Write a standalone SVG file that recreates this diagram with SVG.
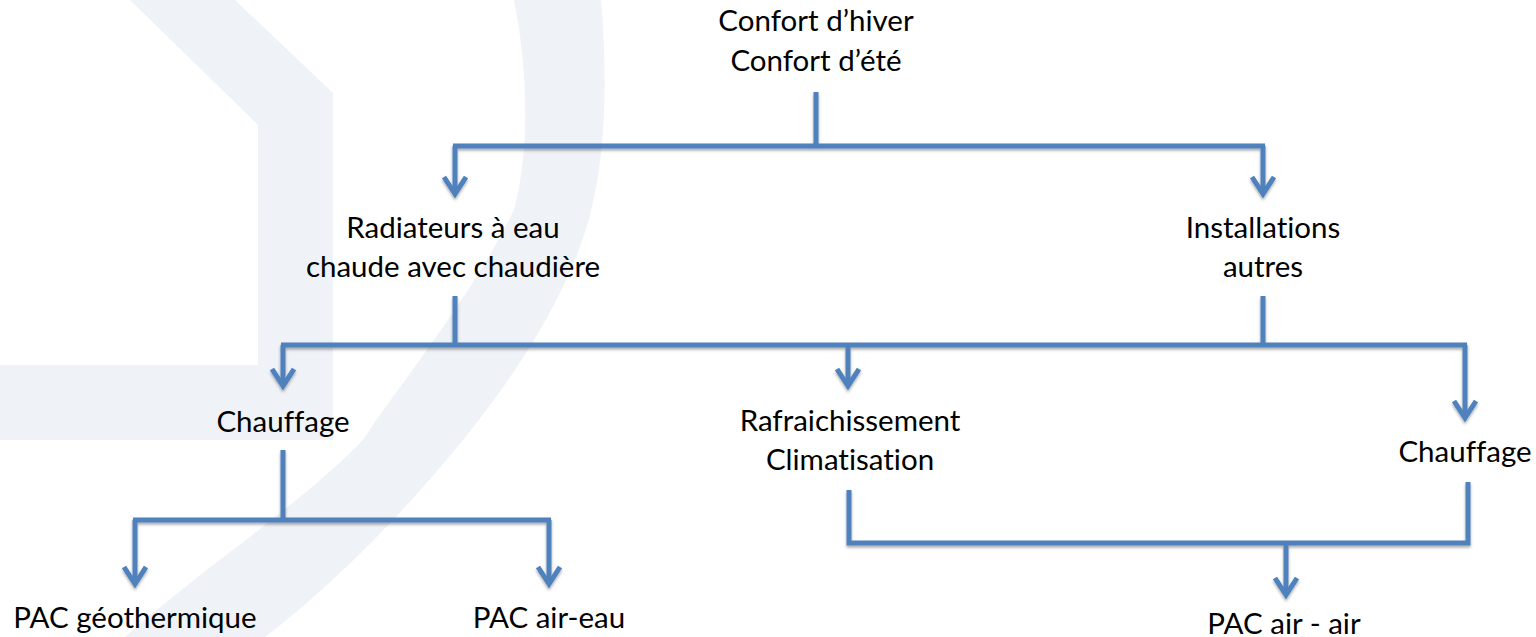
<svg xmlns="http://www.w3.org/2000/svg" width="1536" height="637" viewBox="0 0 1536 637">
  <defs>
    <style>
      .wm { fill: #EFF2F7; stroke: none; }
      .lbl { font-family: Lato, "Liberation Sans", sans-serif; font-size: 29.5px; fill: #000; text-anchor: middle; font-variant-ligatures: none; font-feature-settings: "liga" 0, "clig" 0, "dlig" 0; }
      .ln { fill: none; stroke: #4F81BD; stroke-width: 5; stroke-linejoin: miter; stroke-linecap: butt; }
      .arrow { marker-end: url(#arr); }
    </style>
    <marker id="arr" markerUnits="userSpaceOnUse" viewBox="-22 -16 26 32" markerWidth="26" markerHeight="32" refX="0" refY="0" orient="auto" overflow="visible">
      <path d="M-17,-11 L0,0 L-17,11" fill="none" stroke="#4F81BD" stroke-width="5" stroke-linejoin="miter"/>
    </marker>
    <filter id="sh" x="-5%" y="-20%" width="110%" height="160%">
      <feDropShadow dx="0" dy="2" stdDeviation="1.5" flood-color="#000" flood-opacity="0.35"/>
    </filter>
  </defs>

  <rect x="0" y="0" width="1536" height="637" fill="#FFFFFF"/>

  <g id="watermark">
    <polygon class="wm" points="235,0 333,93 333,440 0,440 0,365 258,365 258,125 130,0"/>
    <path class="wm" d="M601,0 C607,70 607,150 590,215 C570,290 520,370 463,440 C410,505 340,580 265,637 L125,637 C200,570 300,505 363,440 C395,390 470,300 514,210 C530,150 528,70 514,0 Z"/>
  </g>

  <g id="connectors" filter="url(#sh)">
    <path class="ln" d="M816,92 V146"/>
    <path class="ln" d="M453,146 H1265"/>
    <path class="ln arrow" d="M455,146 V194"/>
    <path class="ln arrow" d="M1263,146 V194"/>

    <path class="ln" d="M455,296 V345"/>
    <path class="ln" d="M1263,296 V345"/>
    <path class="ln" d="M281,345 H1467"/>
    <path class="ln arrow" d="M283,345 V386"/>
    <path class="ln arrow" d="M848,345 V386"/>
    <path class="ln arrow" d="M1465,345 V418"/>

    <path class="ln" d="M283,450 V520"/>
    <path class="ln" d="M133,520 H551"/>
    <path class="ln arrow" d="M135,520 V584"/>
    <path class="ln arrow" d="M549,520 V584"/>

    <path class="ln" d="M849,490 V543 H1468 V482"/>
    <path class="ln arrow" d="M1286,543 V595"/>
  </g>

  <g id="node-confort">
    <text class="lbl" x="816" y="31">Confort d’hiver</text>
    <text class="lbl" x="816" y="71">Confort d’été</text>
  </g>
  <g id="node-radiateurs">
    <text class="lbl" x="453" y="238">Radiateurs à eau</text>
    <text class="lbl" x="453" y="277">chaude avec chaudière</text>
  </g>
  <g id="node-installations">
    <text class="lbl" x="1263" y="238">Installations</text>
    <text class="lbl" x="1263" y="277">autres</text>
  </g>
  <g id="node-chauffage-1">
    <text class="lbl" x="283" y="432">Chauffage</text>
  </g>
  <g id="node-rafraichissement">
    <text class="lbl" x="850" y="431">Rafraichissement</text>
    <text class="lbl" x="850" y="470">Climatisation</text>
  </g>
  <g id="node-chauffage-2">
    <text class="lbl" x="1465" y="462">Chauffage</text>
  </g>
  <g id="node-pac-geo">
    <text class="lbl" x="135" y="628">PAC géothermique</text>
  </g>
  <g id="node-pac-air-eau">
    <text class="lbl" x="549" y="628">PAC air-eau</text>
  </g>
  <g id="node-pac-air-air">
    <text class="lbl" x="1284" y="634">PAC air - air</text>
  </g>
</svg>
